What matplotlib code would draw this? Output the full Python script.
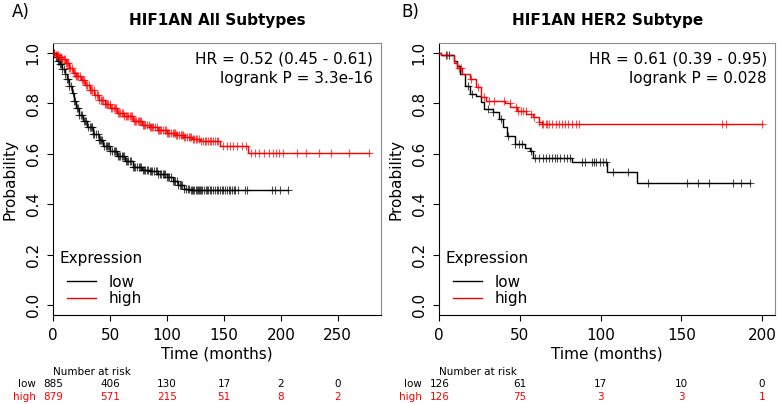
import numpy as np
import matplotlib
matplotlib.use("Agg")
import matplotlib.pyplot as plt
from matplotlib.lines import Line2D
import matplotlib.transforms as mtransforms

# ---------------- data ----------------
# Panel A: HIF1AN All Subtypes
a_high_t = [0, 2, 5, 8, 11, 14, 17, 20, 24, 28, 32, 36, 40, 45, 50, 56, 62, 70, 78, 85, 92, 100, 108, 115, 122, 129, 146.6, 171.5]
a_high_s = [1.0, 0.993, 0.985, 0.975, 0.96, 0.94, 0.922, 0.908, 0.895, 0.875, 0.855, 0.835, 0.815, 0.797, 0.78, 0.764, 0.75, 0.731, 0.716, 0.705, 0.695, 0.682, 0.674, 0.666, 0.66, 0.651, 0.631, 0.604]
a_high_cens = [1, 2, 3, 4, 5, 6, 7, 8, 9, 10, 11, 12, 13, 14, 15, 16.5, 18, 19, 20, 21, 22, 23.5, 25, 26, 27, 28.5, 30, 31, 32, 33, 34, 35.5, 37, 38, 39, 40.5, 42, 43, 44, 45, 46, 47, 48, 49.5, 51, 52, 53, 54, 55, 56.5, 58, 59, 60, 61, 62, 63.5, 65, 66, 67, 68, 69, 70.5, 72, 73, 74, 75, 76, 77.5, 79, 80, 81, 82.5, 84, 85, 86, 87, 88, 89.5, 91, 92, 93, 94, 95, 96.5, 98, 99, 100, 101, 102, 103.5, 105, 106, 107, 108, 109, 110.5, 112, 113, 114, 115, 116, 117.5, 119, 120, 121, 122.5, 124, 125, 126, 128, 130, 131.5, 133, 134.5, 136, 137.5, 139, 140.5, 142, 143.5, 145, 149.5, 152.5, 155.4, 158.3, 161.3, 165.7, 169.5, 173.6, 177.4, 181.2, 185.6, 189.4, 193.5, 195.9, 198.5, 202.3, 214.1, 222.2, 233.1, 244.3, 260.1, 277.7]

a_low_t = [0, 2, 4, 6, 8, 10, 12, 14, 16, 18, 20, 23, 26, 30, 35, 40, 44, 50, 56, 63, 70, 78, 85, 92, 100, 105, 110, 115, 120]
a_low_s = [1.0, 0.985, 0.97, 0.955, 0.935, 0.915, 0.898, 0.87, 0.84, 0.81, 0.78, 0.755, 0.73, 0.705, 0.677, 0.655, 0.631, 0.61, 0.591, 0.57, 0.548, 0.537, 0.53, 0.52, 0.507, 0.494, 0.476, 0.462, 0.455]
a_low_cens = [1, 2, 3, 4, 5, 6, 7, 8, 9, 10.5, 12, 13, 14, 15.5, 17, 18, 19, 20.5, 22, 23, 24, 25.5, 27, 28, 29, 30.5, 32, 33, 34, 35, 36, 37.5, 39, 40, 41, 42, 43, 44.5, 46, 47, 48, 49, 50, 51.5, 53, 54, 55, 56.5, 58, 59, 60, 61, 62, 63.5, 65, 66, 67, 68.5, 70, 71, 72, 73.5, 75, 76, 77, 78.5, 80, 81, 82, 83.5, 85, 86, 87, 88.5, 90, 91, 92, 93.5, 95, 96, 97, 98.5, 100, 101, 102, 103.5, 105, 106, 107, 108.5, 110, 111, 112, 113.5, 115, 116.5, 118, 119.5, 121, 122, 123, 124, 125, 126, 127, 128, 129, 130, 131, 132.5, 134, 135, 136, 137.5, 139, 140.5, 142, 143.5, 145, 146.5, 148, 149.5, 151, 152.5, 154, 155.5, 157, 158.5, 160, 162, 168.6, 170.6, 192, 194.5, 199.5, 206]

a_risk_times = [0, 50, 100, 150, 200, 250]
a_risk_low = [885, 406, 130, 17, 2, 0]
a_risk_high = [879, 571, 215, 51, 8, 2]
a_xticks = [0, 50, 100, 150, 200, 250]

# Panel B: HIF1AN HER2 Subtype
b_high_t = [0, 1, 9, 11, 14, 19, 23, 26, 29, 41, 44, 48, 54, 58, 62, 63.5]
b_high_s = [1.0, 0.992, 0.96, 0.94, 0.917, 0.898, 0.864, 0.824, 0.811, 0.80, 0.785, 0.771, 0.758, 0.745, 0.725, 0.718]
b_high_cens = [5, 12, 13.5, 19.5, 24, 28, 31, 34, 40, 43.5, 47.5, 49, 50.5, 52, 53.5, 57, 58.5, 62, 63.5, 64.5, 66, 67, 68, 70, 72, 74, 76, 78, 80, 82, 84.5, 86.5, 175, 177.5, 200]

b_low_t = [0, 1, 9, 11, 13, 16, 19, 23, 26, 28, 33, 37, 39.5, 42, 47, 53, 56, 58, 82, 104, 122.5]
b_low_s = [1.0, 0.992, 0.97, 0.95, 0.917, 0.87, 0.838, 0.83, 0.805, 0.778, 0.765, 0.738, 0.705, 0.671, 0.638, 0.625, 0.611, 0.585, 0.567, 0.528, 0.483]
b_low_cens = [4, 6, 18, 20.5, 30, 33, 38.5, 42.5, 47, 49.5, 51.5, 57, 59.5, 62, 64, 66, 68, 70, 71.5, 73, 75, 77, 79, 81, 88.2, 90.3, 94.5, 95.9, 97.2, 99.3, 101.7, 103.5, 107.8, 117.1, 129.1, 153.7, 160.5, 167.1, 181.8, 186.9, 192.5]

b_risk_times = [0, 50, 100, 150, 200]
b_risk_low = [126, 61, 17, 10, 0]
b_risk_high = [126, 75, 3, 3, 1]
b_xticks = [0, 50, 100, 150, 200]

panels = [
    dict(letter="A)", title="HIF1AN All Subtypes",
         hr="HR = 0.52 (0.45 - 0.61)", p="logrank P = 3.3e-16",
         low=(a_low_t, a_low_s, a_low_cens), high=(a_high_t, a_high_s, a_high_cens),
         risk_t=a_risk_times, risk_low=a_risk_low, risk_high=a_risk_high,
         xticks=a_xticks, xlim=(0, 288),
         rect=[53.3, 381, 43, 315], lx=21),
    dict(letter="B)", title="HIF1AN HER2 Subtype",
         hr="HR = 0.61 (0.39 - 0.95)", p="logrank P = 0.028",
         low=(b_low_t, b_low_s, b_low_cens), high=(b_high_t, b_high_s, b_high_cens),
         risk_t=b_risk_times, risk_low=b_risk_low, risk_high=b_risk_high,
         xticks=b_xticks, xlim=(0, 208),
         rect=[439.3, 775, 43, 315], lx=410),
]

W, H = 778, 404
fig = plt.figure(figsize=(W / 100, H / 100), dpi=100)
plt.rcParams['font.family'] = ['DejaVu Sans']

RED = '#FF0000'


def draw_km(ax, t, s, cens, color):
    t = np.asarray(t, float)
    s = np.asarray(s, float)
    cens = np.asarray(cens, float)
    tend = max(t.max(), cens.max())
    tt = np.append(t, tend)
    ss = np.append(s, s[-1])
    ax.plot(tt, ss, drawstyle='steps-post', color=color, lw=1.0, zorder=3)
    idx = np.searchsorted(t, cens, side='right') - 1
    ax.plot(cens, s[idx], ls='none', marker='+', ms=6, mew=0.8,
            color=color, alpha=0.7, zorder=4)


for P in panels:
    l, r, top, bot = P['rect']
    aw, ah = r - l, bot - top
    ax = fig.add_axes([l / W, 1 - bot / H, aw / W, ah / H])
    draw_km(ax, *P['low'], 'black')
    draw_km(ax, *P['high'], RED)
    ax.set_xlim(*P['xlim'])
    ax.set_ylim(-0.04, 1.04)
    ax.set_xticks(P['xticks'])
    ax.set_yticks([0.0, 0.2, 0.4, 0.6, 0.8, 1.0])
    ax.set_yticklabels(['0.0', '0.2', '0.4', '0.6', '0.8', '1.0'], rotation=90, va='center')
    ax.tick_params(axis='both', labelsize=11, length=4, width=0.8, direction='out')
    ax.tick_params(axis='x', pad=5)
    ax.tick_params(axis='y', pad=5)
    for side in ['top', 'right']:
        ax.spines[side].set_color('#8a8a8a')
    for side in ['left', 'bottom']:
        ax.spines[side].set_color('black')
    for sp in ax.spines.values():
        sp.set_linewidth(0.8)
    ax.set_xlabel('Time (months)', fontsize=11, labelpad=3)
    ax.set_ylabel('Probability', fontsize=11, labelpad=6)

    ax.text(0.976, 0.941, P['hr'], transform=ax.transAxes, ha='right', va='center', fontsize=11)
    ax.text(0.976, 0.868, P['p'], transform=ax.transAxes, ha='right', va='center', fontsize=11)

    ax.set_title(P['title'], fontsize=11, fontweight='bold', pad=13)
    fig.text(P['lx'] / W, 1 - 12 / H, P['letter'], ha='center', va='center', fontsize=12)

    # legend: title as text, entries via legend
    ax.text(6 / aw, (bot - 259) / ah, 'Expression', transform=ax.transAxes,
            ha='left', va='center', fontsize=11)
    handles = [Line2D([], [], color='black', lw=1.0), Line2D([], [], color=RED, lw=1.0)]
    leg = ax.legend(handles, ['low', 'high'], loc='lower left',
                    bbox_to_anchor=(10 / aw, 5 / ah), frameon=False, fontsize=11,
                    handlelength=1.9, handletextpad=0.8, labelspacing=0.1,
                    borderaxespad=0.0, borderpad=0.25)

    # number at risk
    trans = mtransforms.blended_transform_factory(ax.transData, ax.transAxes)
    ax.text(0, (bot - 372) / ah, 'Number at risk', transform=trans,
            ha='left', va='center', fontsize=7.5, clip_on=False)
    ylow = (bot - 384) / ah
    yhigh = (bot - 397) / ah
    fig.text((l - 17) / W, 1 - 384 / H, 'low', ha='right', va='center', fontsize=7.5)
    fig.text((l - 17) / W, 1 - 397 / H, 'high', ha='right', va='center', fontsize=7.5, color=RED)
    for tx, nl, nh in zip(P['risk_t'], P['risk_low'], P['risk_high']):
        ax.text(tx, ylow, str(nl), transform=trans, ha='center', va='center',
                fontsize=7.5, clip_on=False)
        ax.text(tx, yhigh, str(nh), transform=trans, ha='center', va='center',
                fontsize=7.5, color=RED, clip_on=False)

fig.savefig('out.png', dpi=100)
